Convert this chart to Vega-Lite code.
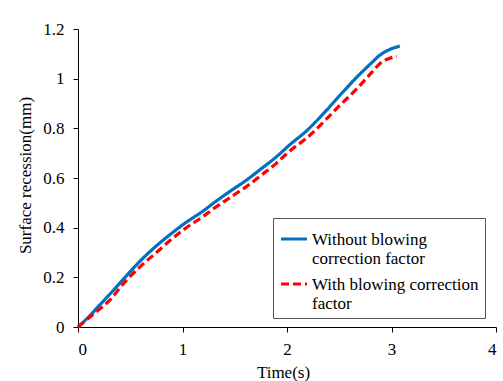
{
  "$schema": "https://vega.github.io/schema/vega-lite/v6.json",
  "width": 418,
  "height": 298,
  "autosize": {"type": "none"},
  "padding": {"left": 78, "top": 29, "right": 7, "bottom": 54},
  "background": "white",
  "config": {"view": {"stroke": null}},
  "data": {
    "values": [
      {"t": 0, "r": 0, "s": "Without blowing correction factor"},
      {"t": 0.1, "r": 0.04, "s": "Without blowing correction factor"},
      {"t": 0.2, "r": 0.085, "s": "Without blowing correction factor"},
      {"t": 0.3, "r": 0.13, "s": "Without blowing correction factor"},
      {"t": 0.45, "r": 0.2, "s": "Without blowing correction factor"},
      {"t": 0.6, "r": 0.268, "s": "Without blowing correction factor"},
      {"t": 0.74, "r": 0.323, "s": "Without blowing correction factor"},
      {"t": 0.88, "r": 0.372, "s": "Without blowing correction factor"},
      {"t": 1.02, "r": 0.417, "s": "Without blowing correction factor"},
      {"t": 1.2, "r": 0.468, "s": "Without blowing correction factor"},
      {"t": 1.3, "r": 0.5, "s": "Without blowing correction factor"},
      {"t": 1.45, "r": 0.545, "s": "Without blowing correction factor"},
      {"t": 1.61, "r": 0.591, "s": "Without blowing correction factor"},
      {"t": 1.75, "r": 0.636, "s": "Without blowing correction factor"},
      {"t": 1.9, "r": 0.686, "s": "Without blowing correction factor"},
      {"t": 2.03, "r": 0.735, "s": "Without blowing correction factor"},
      {"t": 2.2, "r": 0.795, "s": "Without blowing correction factor"},
      {"t": 2.35, "r": 0.86, "s": "Without blowing correction factor"},
      {"t": 2.5, "r": 0.93, "s": "Without blowing correction factor"},
      {"t": 2.67, "r": 1.007, "s": "Without blowing correction factor"},
      {"t": 2.8, "r": 1.06, "s": "Without blowing correction factor"},
      {"t": 2.89, "r": 1.095, "s": "Without blowing correction factor"},
      {"t": 2.97, "r": 1.115, "s": "Without blowing correction factor"},
      {"t": 3.08, "r": 1.131, "s": "Without blowing correction factor"},
      {"t": 0, "r": 0, "s": "With blowing correction factor"},
      {"t": 0.1, "r": 0.035, "s": "With blowing correction factor"},
      {"t": 0.2, "r": 0.07, "s": "With blowing correction factor"},
      {"t": 0.29, "r": 0.102, "s": "With blowing correction factor"},
      {"t": 0.45, "r": 0.182, "s": "With blowing correction factor"},
      {"t": 0.6, "r": 0.245, "s": "With blowing correction factor"},
      {"t": 0.74, "r": 0.296, "s": "With blowing correction factor"},
      {"t": 0.88, "r": 0.348, "s": "With blowing correction factor"},
      {"t": 1.02, "r": 0.395, "s": "With blowing correction factor"},
      {"t": 1.2, "r": 0.446, "s": "With blowing correction factor"},
      {"t": 1.3, "r": 0.477, "s": "With blowing correction factor"},
      {"t": 1.45, "r": 0.52, "s": "With blowing correction factor"},
      {"t": 1.61, "r": 0.565, "s": "With blowing correction factor"},
      {"t": 1.75, "r": 0.61, "s": "With blowing correction factor"},
      {"t": 1.9, "r": 0.66, "s": "With blowing correction factor"},
      {"t": 2.03, "r": 0.71, "s": "With blowing correction factor"},
      {"t": 2.2, "r": 0.765, "s": "With blowing correction factor"},
      {"t": 2.35, "r": 0.826, "s": "With blowing correction factor"},
      {"t": 2.5, "r": 0.89, "s": "With blowing correction factor"},
      {"t": 2.67, "r": 0.96, "s": "With blowing correction factor"},
      {"t": 2.8, "r": 1.02, "s": "With blowing correction factor"},
      {"t": 2.89, "r": 1.061, "s": "With blowing correction factor"},
      {"t": 2.97, "r": 1.08, "s": "With blowing correction factor"},
      {"t": 3.05, "r": 1.09, "s": "With blowing correction factor"}
    ]
  },
  "mark": {"type": "line", "strokeWidth": 3.2, "interpolate": "monotone"},
  "encoding": {
    "x": {"field": "t", "type": "quantitative", "scale": {"domain": [0, 4], "nice": false}, "axis": {"grid": false, "domainColor": "black", "tickColor": "black", "values": [0, 1, 2, 3, 4], "format": "~g", "labelFont": "Liberation Serif", "labelFontSize": 17, "labelColor": "black", "labelPadding": 9, "title": "Time(s)", "titleFont": "Liberation Serif", "titleFontSize": 17, "titleFontWeight": "normal", "titleColor": "black", "titleX": 205, "titleY": 45, "titleBaseline": "middle", "titleAlign": "center"}},
    "y": {"field": "r", "type": "quantitative", "scale": {"domain": [0, 1.2], "nice": false}, "axis": {"grid": false, "domainColor": "black", "tickColor": "black", "values": [0, 0.2, 0.4, 0.6, 0.8, 1, 1.2], "format": "~g", "labelFont": "Liberation Serif", "labelFontSize": 17, "labelColor": "black", "labelPadding": 9, "title": "Surface recession(mm)", "titleFont": "Liberation Serif", "titleFontSize": 17, "titleFontWeight": "normal", "titleColor": "black", "titleX": -53, "titleY": 146, "titleBaseline": "middle", "titleAlign": "center", "titleAngle": 270}},
    "color": {"field": "s", "type": "nominal", "scale": {"domain": ["Without blowing correction factor", "With blowing correction factor"], "range": ["#0070C0", "#FF0000"]}, "legend": {"title": null, "orient": "none", "legendX": 195, "legendY": 189, "fillColor": "white", "strokeColor": "#555", "padding": 6, "labelFont": "Liberation Serif", "labelFontSize": 17, "labelColor": "black", "labelLimit": 300, "labelBaseline": "top", "labelLineHeight": 20.7, "symbolType": "stroke", "symbolSize": 676, "symbolStrokeWidth": 3.2, "rowPadding": 2, "labelOffset": 3, "labelExpr": "datum.label == 'Without blowing correction factor' ? ['Without blowing', 'correction factor'] : ['With blowing correction', 'factor']", "encode": {"labels": {"update": {"dy": {"value": -7}}}}}},
    "strokeDash": {"field": "s", "type": "nominal", "scale": {"domain": ["Without blowing correction factor", "With blowing correction factor"], "range": [[1, 0], [8, 4]]}, "legend": {"title": null, "orient": "none", "legendX": 195, "legendY": 189, "labelFont": "Liberation Serif", "labelFontSize": 17, "labelExpr": "datum.label == 'Without blowing correction factor' ? ['Without blowing', 'correction factor'] : ['With blowing correction', 'factor']"}}
  }
}
